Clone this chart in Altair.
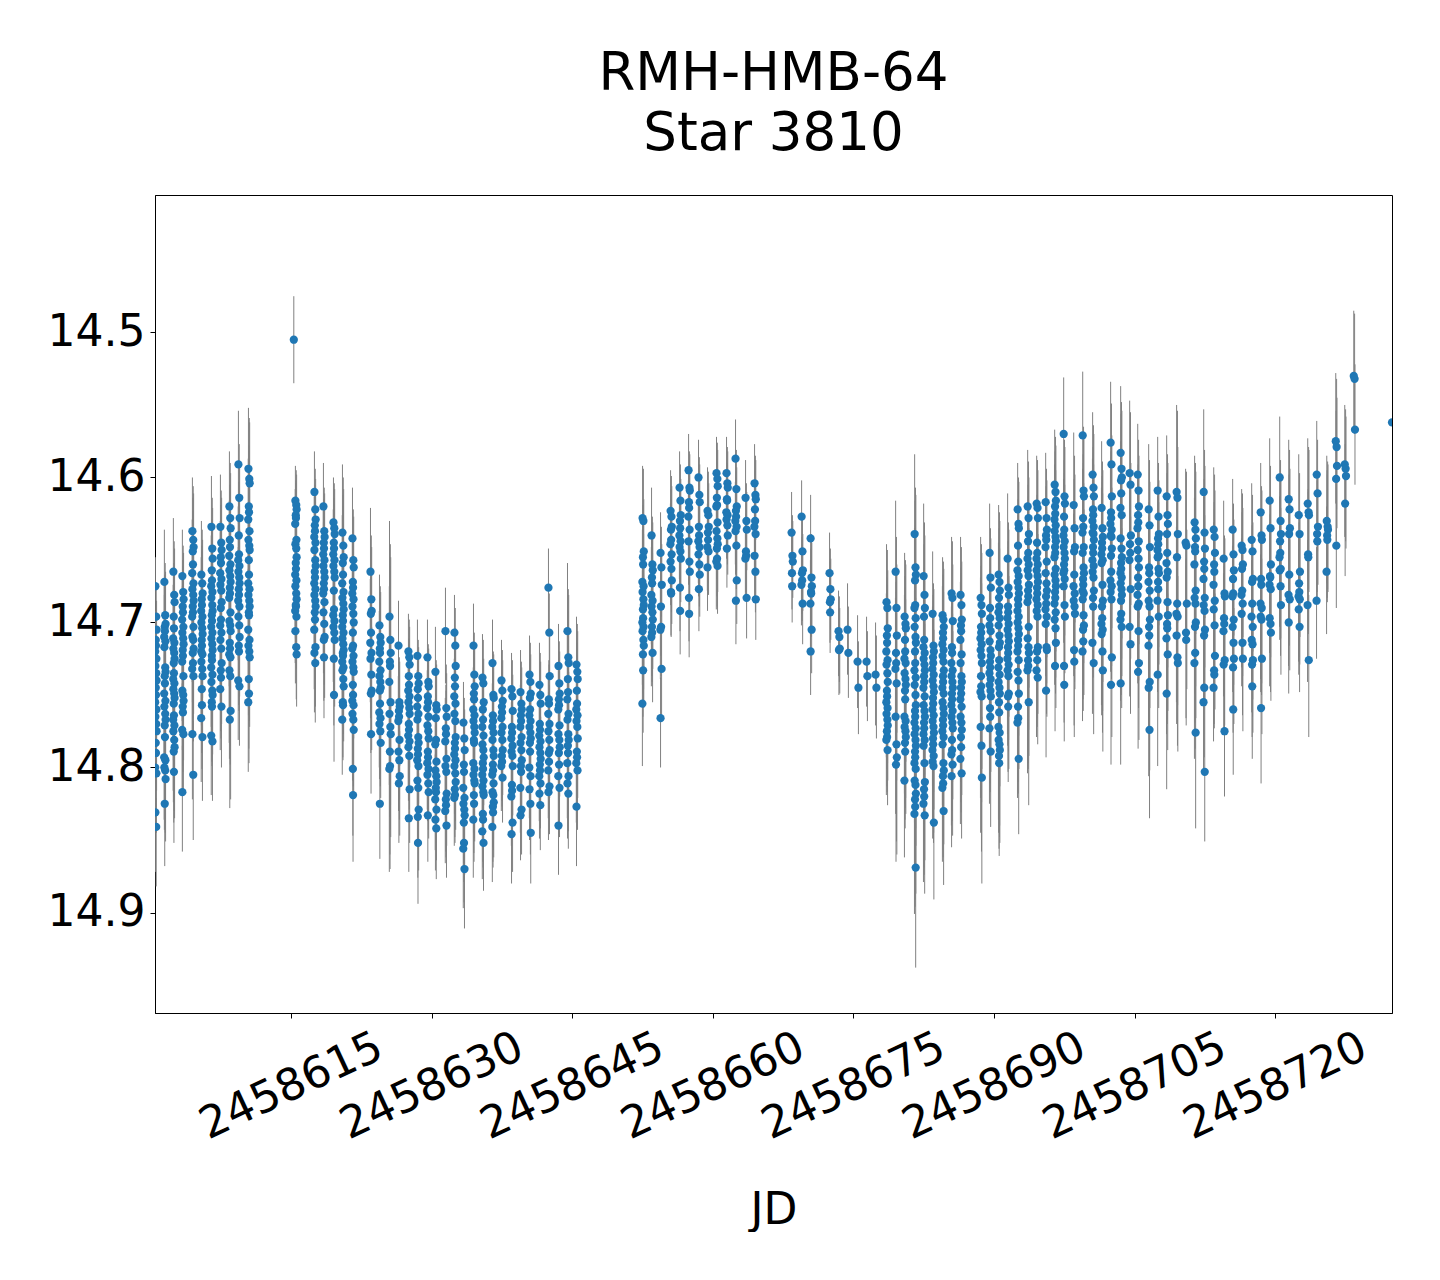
import altair as alt
import pandas as pd

JD0 = 2458600
MAG0 = 14.0

# Night centres, days after JD0
night_jd = [
    0.59, 1.55, 2.51, 3.47, 4.54, 5.50, 6.57, 7.53, 8.49, 9.45, 10.52,
    15.30, 15.53, 17.56, 18.52, 19.59, 20.55, 21.62,
    23.54, 24.50, 25.57, 26.53, 27.59, 28.55, 29.62, 30.47, 31.54, 32.50, 33.46, 34.53,
    35.49, 36.56, 37.52, 38.59, 39.55, 40.51, 41.57, 42.53, 43.60, 44.56, 45.52,
    52.57, 53.53, 54.49, 55.56, 56.52, 57.48, 58.54, 59.50, 60.46, 61.53, 62.49, 63.56, 64.52,
    68.47, 69.54, 70.50, 72.52, 73.48, 74.44, 75.51, 76.47, 77.43,
    78.60, 79.57, 80.53, 81.60, 82.56, 83.52, 84.58, 85.54, 86.50,
    88.64, 89.60, 90.56, 91.52, 92.59, 93.66, 94.62,
    95.58, 96.54, 97.50, 98.57, 99.53, 100.59, 101.55, 102.51, 103.58, 104.54, 105.40,
    106.57, 107.53, 108.49, 109.55, 110.51, 111.47, 112.44,
    113.51, 114.57, 115.53, 116.49, 117.56, 118.52, 119.48, 120.55, 121.51, 122.58, 123.54,
    124.50, 125.57, 126.53, 127.49, 128.45, 132.47,
]

# Upper and lower error-bar reach for each night, thousandths of a magnitude
night_err_up = [
    20, 36, 37, 32, 37, 37, 35, 36, 38, 37, 42,
    30, 24, 28, 30, 31, 47, 35,
    44, 35, 66, 31, 26, 25, 26, 31, 30, 26, 28, 29,
    30, 30, 28, 25, 29, 27, 29, 27, 29, 47, 33,
    36, 33, 28, 28, 25, 25, 26, 30, 25, 25, 27, 26, 27,
    28, 25, 30, 28, 28, 32, 32, 31, 36,
    40, 49, 44, 55, 50, 43, 40, 39, 40,
    42, 34, 48, 45, 32, 39, 33,
    34, 38, 39, 50, 44, 43, 46, 42, 46, 50, 35,
    45, 37, 42, 60, 51, 46, 57,
    43, 40, 35, 39, 39, 34, 43, 42, 41, 42, 45,
    37, 45, 47, 41, 45, 0,
]
night_err_dn = [
    41, 43, 49, 41, 45, 44, 41, 42, 61, 41, 48,
    30, 36, 41, 42, 46, 38, 46,
    41, 38, 71, 41, 37, 42, 32, 35, 36, 33, 41, 40,
    33, 38, 31, 34, 31, 35, 31, 33, 34, 38, 41,
    43, 34, 34, 30, 30, 30, 29, 30, 33, 27, 30, 28, 28,
    25, 28, 30, 28, 31, 31, 32, 31, 35,
    38, 67, 53, 69, 54, 53, 51, 49, 45,
    73, 52, 64, 52, 52, 71, 46,
    46, 45, 39, 52, 48, 49, 56, 55, 56, 48, 53,
    61, 63, 66, 61, 59, 66, 48,
    37, 45, 45, 50, 50, 52, 47, 48, 49, 45, 53,
    40, 43, 43, 50, 38, 0,
]

# Magnitudes seen on each night, thousandths of a magnitude above 14
night_mag = [
    [675,696,705,712,716,720,725,730,735,740,745,750,755,760,765,770,775,783,790,800,804,831,841],
    [672,695,701,703,706,710,713,717,731,734,737,742,749,754,758,763,767,771,779,793,795,800,802,808,825],
    [665,681,686,696,704,711,714,718,721,725,728,735,739,742,746,749,752,756,764,767,771,775,781,786,789,803],
    [668,679,684,689,693,698,703,707,711,715,719,723,727,737,747,750,754,758,762,774,777,817],
    [637,643,648,651,660,666,673,677,681,685,689,693,696,703,710,712,718,721,728,732,737,777,805],
    [667,673,680,684,688,692,696,700,704,708,712,716,720,722,727,732,737,746,757,766,779],
    [634,649,656,664,671,675,679,683,688,692,695,699,703,707,711,715,719,723,726,731,736,741,747,750,755,758,778,782],
    [634,645,650,655,659,666,670,674,678,686,690,698,702,707,712,718,728,733,738,746,758],
    [620,628,635,643,648,654,660,664,668,672,676,680,683,693,699,702,706,714,718,722,724,733,737,761,767],
    [591,614,628,640,653,657,661,665,669,673,677,681,685,689,696,702,710,716,720,740,744],
    [594,601,604,620,624,629,637,643,647,650,657,667,673,677,681,685,689,693,695,705,712,716,720,724,739,749,755],
    [505],
    [616,619,622,626,628,632,643,646,649,655,659,663,667,671,675,680,684,688,689,692,696,706,717,722],
    [610,622,629,633,637,641,645,650,657,661,665,669,673,677,681,685,689,693,698,705,717,721,728],
    [620,637,641,645,649,653,657,661,665,669,673,677,680,686,693,701,710,712,724],
    [631,635,639,645,649,653,657,661,665,669,678,691,695,699,703,707,712,725,750],
    [638,647,655,659,667,673,679,683,687,691,695,699,703,707,711,715,719,721,723,727,731,733,739,744,755,757,767],
    [642,657,662,672,676,680,684,689,694,700,707,716,718,723,727,731,734,743,750,754,757,763,767,774,801,819],
    [665,684,692,694,707,714,721,725,736,747,749,777],
    [702,710,714,718,721,727,733,737,741,745,747,756,762,766,770,775,783,825],
    [696,712,721,727,730,741,755,763,772,777,789,799,801],
    [716,755,758,761,765,768,781,789,795,806,811],
    [720,724,729,737,743,747,751,755,759,763,770,774,778,782,786,792,815,835],
    [723,737,742,746,752,758,763,767,779,783,787,791,795,799,809,814,829,834,852],
    [724,741,744,751,755,759,765,771,775,780,789,793,797,801,805,811,817,833],
    [734,757,760,766,781,784,796,802,806,810,814,817,822,829,836,842],
    [706,759,765,773,777,782,794,799,803,818,822,826,830,840],
    [707,716,730,738,744,751,756,763,768,779,783,787,791,795,799,804,810,815,819,821],
    [769,780,788,798,803,814,821,825,829,833,838,852,856,870],
    [716,736,744,749,753,760,764,768,772,776,781,783,797,801,805,809,811,819,825,836],
    [738,742,755,760,767,772,778,784,788,793,797,801,805,809,813,817,819,832,836,844,852],
    [728,750,752,764,768,772,776,781,788,792,798,802,805,811,817,819,824,827,831,841],
    [740,747,754,758,762,766,772,776,781,788,792,796,799,807],
    [746,751,761,772,776,780,785,789,792,799,812,816,820,838,846],
    [748,756,760,764,768,772,779,783,788,795,799,803,814,829,833],
    [736,741,749,752,760,764,768,772,776,780,783,789,800,806,815,825,845],
    [743,750,756,770,774,778,782,786,790,794,798,802,806,811,818,826],
    [676,707,737,753,756,763,770,775,781,788,790,796,802,813,817],
    [730,742,749,753,757,760,771,777,781,786,790,798,806,814,840],
    [706,724,728,739,748,753,763,767,777,781,785,790,797,806,811,818],
    [729,734,739,747,756,760,764,768,772,780,789,793,797,802,827],
    [628,630,651,655,660,672,675,679,684,688,691,697,700,703,706,712,716,722,733,756],
    [640,660,664,669,673,681,685,689,693,698,703,707,710,721],
    [652,662,674,689,703,705,732,766],
    [623,627,634,636,643,646,653,658,663,671,679,680],
    [607,616,626,630,635,640,644,648,651,656,676,692],
    [595,607,609,617,621,627,636,644,658,665,683,694],
    [600,612,617,634,640,644,648,653,660,667,677],
    [623,626,634,638,643,648,651,662],
    [597,601,606,614,619,620,631,637,642,646,649,656,658,661],
    [597,604,607,615,616,624,626,629,633,640,649],
    [587,608,620,623,627,630,634,637,647,671,685],
    [614,630,636,651,654,656,683],
    [604,612,615,622,630,634,639,654,665,684],
    [638,654,658,666,675],
    [627,651,664,666,671,674,687],
    [642,669,675,679,680,687,705,720],
    [666,677,684,686,693],
    [706,710,718,719],
    [705,721],
    [727,745],
    [727,737],
    [736,745],
    [686,690,704,709,714,720,726,729,735,741,747,751,755,759,763,767,771,775,779,781,788],
    [665,690,709,721,728,732,742,765,784,793,798],
    [696,701,704,712,720,725,728,735,739,743,747,753,765,768,772,775,779,783,789,809],
    [639,662,667,671,688,690,697,703,710,714,720,728,733,738,743,750,757,761,765,769,773,777,781,785,789,793,797,801,809,812,818,822,827,832,869],
    [668,681,690,696,712,717,721,725,729,733,737,741,745,751,757,761,765,769,773,777,781,785,797,810,815,820,825,833],
    [694,716,720,724,728,732,736,740,744,748,752,756,760,764,768,772,776,780,784,788,792,796,799,838],
    [695,698,703,707,711,715,719,723,727,733,737,741,745,749,755,759,763,767,771,775,779,784,797,802,806,811,814,830],
    [680,683,699,717,721,728,733,737,741,745,749,753,757,761,765,769,773,781,788,791,798,806],
    [681,688,698,702,706,712,722,728,737,741,745,749,753,758,765,769,774,779,786,794,804],
    [683,688,694,703,707,711,715,719,723,728,737,744,748,751,772,785,807],
    [652,669,676,690,697,702,706,713,719,723,727,731,735,739,743,747,751,759,765,773,789],
    [667,672,678,683,689,693,697,702,709,714,717,726,731,736,741,745,749,755,762,772,776,781,784,788,792,797],
    [656,676,681,689,693,697,701,705,709,713,717,721,725,729,733,737,749,751,758],
    [622,632,635,647,658,664,668,672,676,680,684,688,692,696,700,704,708,712,716,720,726,734,740,749,758,766,769,794],
    [620,628,639,644,652,656,660,664,668,674,678,682,686,703,711,717,721,726,730,733,755],
    [618,621,628,645,652,656,660,664,668,672,676,680,684,688,692,696,717,720,726,733,738],
    [617,628,636,640,643,648,658,666,673,678,682,687,691,696,701,717,719,747],
    [605,610,616,620,625,629,633,637,641,644,648,652,655,663,667,671,675,679,683,687,693,698,704,714,730],
    [570,613,618,627,636,640,644,648,652,656,660,664,666,670,675,688,696,730,743],
    [619,635,648,651,667,675,680,685,689,694,719,727],
    [571,609,613,628,634,638,648,652,662,666,670,674,678,680,684,695,702,705,713,720],
    [598,607,613,622,626,630,634,638,639,643,648,652,657,661,665,669,678,683,689,714,728],
    [621,635,641,645,649,653,657,659,674,685,689,697,701,705,708,720,733],
    [576,591,613,624,628,632,636,640,641,649,654,665,671,675,679,684,724,743],
    [583,594,600,602,611,621,626,642,649,655,659,663,666,669,673,677,681,685,694,698,703,742],
    [597,605,640,646,652,657,677,703,715],
    [598,609,620,626,631,635,644,650,656,662,669,675,681,687,689,706,728,734],
    [622,633,648,662,666,672,678,685,689,698,703,709,716,741,745,774],
    [609,627,639,642,646,650,654,655,663,666,672,677,685,696,736],
    [613,626,632,639,652,659,665,669,686,695,701,704,711,722,749],
    [610,614,639,655,687,694,696,709,724,728],
    [645,647,687,707,712],
    [631,636,642,648,651,660,678,683,687,700,703,721,728,776],
    [610,638,649,658,663,670,683,688,692,705,709,745,755,803],
    [636,641,652,660,665,674,685,691,702,723,733,736,745],
    [656,680,682,697,701,706,726,729,775],
    [636,653,664,670,680,682,698,703,714,725,731,760],
    [647,650,660,663,678,681,687,694,714,725],
    [643,651,670,672,687,696,703,712,715,726,729,744],
    [624,640,643,670,674,687,690,696,698,725,759],
    [616,635,660,668,669,674,677,697,701,707],
    [600,630,639,644,652,655,663,664,675,688],
    [615,622,635,639,667,681,684,700],
    [626,639,665,673,679,682,684,691,703],
    [618,624,626,653,655,688,726],
    [598,611,634,639,644,685],
    [630,634,636,640,643,665],
    [575,579,592,601,647],
    [591,594,599,618],
    [530,532,567],
    [562],
]

# Spread of exposures around the night centre, days
within_night = [-0.06, 0.03, 0.07, -0.02, 0.0, -0.08, 0.05]

title_lines = ["RMH-HMB-64", "Star 3810"]
x_ticks = [2458615, 2458630, 2458645, 2458660, 2458675, 2458690, 2458705, 2458720]
y_ticks = [14.5, 14.6, 14.7, 14.8, 14.9]

rows = []
for jd, up, dn, mags in zip(night_jd, night_err_up, night_err_dn, night_mag):
    for i, m in enumerate(mags):
        rows.append({
            "JD": JD0 + jd + within_night[i % len(within_night)] * (1 if len(mags) > 1 else 0),
            "mag": MAG0 + m / 1000,
            "top": MAG0 + (m - up) / 1000,
            "bot": MAG0 + (m + dn) / 1000,
        })
df = pd.DataFrame(rows)

x_scale = alt.Scale(domain=[2458600.49, 2458732.47], nice=False, zero=False)
y_scale = alt.Scale(domain=[14.4052, 14.9693], reverse=True, nice=False, zero=False)

x_axis = alt.Axis(
    values=x_ticks, format="d", grid=False, title="JD", labelFontSize=44, titleFontSize=44,
    labelAngle=-25, labelAlign="center", labelBaseline="middle", labelPadding=68,
    labelOverlap=False, labelFlush=False, labelLimit=0, tickSize=5, tickColor="black",
    domainColor="black", labelColor="black", titleColor="black", labelFont="DejaVu Sans",
    titleFont="DejaVu Sans", titleFontWeight="normal", titleY=197, titleBaseline="middle",
    labelBound=False,
)
y_axis = alt.Axis(
    values=y_ticks, format=".1f", grid=False, title=None, labelFontSize=44, labelPadding=5,
    tickSize=5, tickColor="black", domainColor="black", labelColor="black",
    labelFont="DejaVu Sans",
)

bars = alt.Chart(df).mark_rule(color="#808080", strokeWidth=1, clip=True).encode(
    x=alt.X("JD:Q", scale=x_scale, axis=x_axis),
    y=alt.Y("top:Q", scale=y_scale, axis=y_axis),
    y2="bot:Q",
)
dots = alt.Chart(df).mark_point(filled=True, color="#1f77b4", size=68, opacity=1, clip=True).encode(
    x=alt.X("JD:Q", scale=x_scale, axis=x_axis),
    y=alt.Y("mag:Q", scale=y_scale, axis=y_axis),
)

chart = (bars + dots).properties(
    width=1237,
    height=818,
    padding={"left": 39, "top": 40, "right": 6, "bottom": 0},
    background="white",
    title=alt.TitleParams(
        text=title_lines, fontSize=53, font="DejaVu Sans", fontWeight="normal",
        lineHeight=60, anchor="middle", color="black", offset=34,
    ),
).configure_view(stroke="black", strokeWidth=1)

chart.save("out.html", embed_options={"renderer": "svg", "actions": False})
